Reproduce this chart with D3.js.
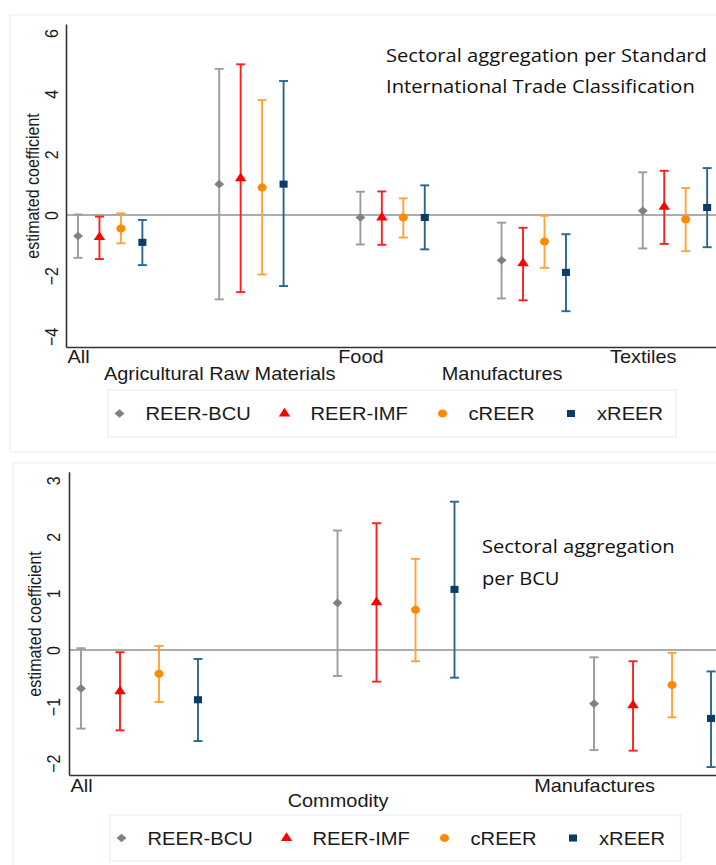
<!DOCTYPE html>
<html>
<head>
<meta charset="utf-8">
<script src="https://cdn.jsdelivr.net/npm/d3@7"></script>
<style>
  html, body { margin: 0; padding: 0; background: #fff; }
  svg { display: block; }
</style>
</head>
<body>
<script>
// Coefficient plots: REER measures by sector aggregation

const seriesNames = ["REER-BCU", "REER-IMF", "cREER", "xREER"];

// --- panel 1: SITC aggregation ---
const sitcCategories = ["All", "Agricultural Raw Materials", "Food", "Manufactures", "Textiles"];
const sitcEstimate = [
    [-0.69, 1.02, -0.08, -1.49, 0.14],
    [-0.73, 1.21, -0.08, -1.59, 0.27],
    [-0.44, 0.91, -0.08, -0.87, -0.14],
    [-0.90, 1.02, -0.08, -1.89, 0.25]
];
const sitcLower = [
    [-1.41, -2.78, -0.97, -2.75, -1.10],
    [-1.45, -2.54, -0.98, -2.81, -0.95],
    [-0.93, -1.96, -0.74, -1.74, -1.19],
    [-1.65, -2.34, -1.13, -3.17, -1.06]
];
const sitcUpper = [
    [0.02, 4.82, 0.77, -0.25, 1.41],
    [-0.05, 4.97, 0.78, -0.42, 1.46],
    [0.06, 3.79, 0.55, -0.02, 0.89],
    [-0.16, 4.42, 0.98, -0.63, 1.55]
];
const sitcTicks = [-4, -2, 0, 2, 4, 6];
const sitcTitle = ["Sectoral aggregation per Standard", "International Trade Classification"];

// --- panel 2: BCU aggregation ---
const bcuCategories = ["All", "Commodity", "Manufactures"];
const bcuEstimate = [
    [-0.68, 0.83, -0.95],
    [-0.73, 0.84, -0.98],
    [-0.42, 0.71, -0.62],
    [-0.88, 1.07, -1.21]
];
const bcuLower = [
    [-1.39, -0.46, -1.77],
    [-1.42, -0.56, -1.78],
    [-0.92, -0.20, -1.19],
    [-1.61, -0.49, -2.07]
];
const bcuUpper = [
    [0.03, 2.11, -0.13],
    [-0.04, 2.24, -0.20],
    [0.07, 1.61, -0.05],
    [-0.16, 2.62, -0.38]
];
const bcuTicks = [-2, -1, 0, 1, 2, 3];
const bcuTitle = ["Sectoral aggregation", "per BCU"];

// styling
const SX = 1.14; // the source image is a bit wider than tall
const barColors = ["#9c9c9c", "#ff1f1f", "#ffa238", "#2b6690"];
const markColors = ["#808080", "#ff0000", "#ff8a00", "#0a3c66"];
const markShapes = ["diamond", "triangle", "circle", "square"];
const sansFont = "'Liberation Sans', Arial, Helvetica, sans-serif";
const titleFont = "'Open Sans', 'Noto Sans', sans-serif";
const seriesShift = 0.152;

const width = 716, height = 865;
const svg = d3.select('body').append('svg')
    .attr('width', width)
    .attr('height', height);

function markerPath(shape) {
    if (shape === 'diamond') return d3.symbol(d3.symbolSquare, 38)();
    if (shape === 'triangle') return d3.symbol(d3.symbolTriangle, 44)();
    if (shape === 'circle') return d3.symbol(d3.symbolCircle, 50)();
    return d3.symbol(d3.symbolSquare, 50)();
}

function markerTransform(shape, x, y) {
    let t = `translate(${x},${y}) scale(${SX},1)`;
    if (shape === 'diamond') t += ' rotate(45)';
    return t;
}

function drawPanel(p) {
    const g = svg.append('g');

    // outer frame
    g.append('rect')
        .attr('x', p.frame[0]).attr('y', p.frame[1])
        .attr('width', p.frame[2]).attr('height', p.frame[3])
        .attr('fill', 'none').attr('stroke', '#ececec').attr('stroke-width', 1);

    const x = d3.scaleLinear().domain(p.xDomain).range(p.xRange);
    const y = d3.scaleLinear().domain(p.yDomain).range(p.yRange);

    // zero line
    g.append('line')
        .attr('x1', x.range()[0]).attr('x2', x.range()[1])
        .attr('y1', y(0)).attr('y2', y(0))
        .attr('stroke', '#5a5a5a').attr('stroke-width', 1.1);

    // y axis
    const gy = g.append('g')
        .attr('transform', `translate(${p.xRange[0]},0)`)
        .call(d3.axisLeft(y).tickValues(p.ticks).tickSize(0).tickSizeOuter(0).tickFormat(d3.format('d')));
    gy.select('.domain').attr('stroke', '#333').attr('stroke-width', 1.6);
    gy.selectAll('text')
        .attr('x', 0).attr('dy', 0)
        .attr('text-anchor', 'middle')
        .attr('font-family', sansFont).attr('font-size', 16)
        .attr('fill', '#1a1a1a')
        .attr('transform', `translate(${p.tickOffset},0) rotate(-90) scale(1,${SX})`);

    // x axis with staggered labels
    const gx = g.append('g')
        .attr('transform', `translate(0,${p.yRange[0]})`)
        .call(d3.axisBottom(x).tickValues(d3.range(p.cats.length)).tickSize(0).tickSizeOuter(0)
            .tickFormat(i => p.cats[i]));
    gx.select('.domain').attr('stroke', '#333').attr('stroke-width', 1.6);
    gx.selectAll('text')
        .attr('y', (d, i) => i % 2 ? p.row2 : p.row1)
        .attr('dy', 0)
        .attr('font-family', sansFont).attr('font-size', 17.5)
        .attr('fill', '#1a1a1a')
        .attr('transform', `scale(${SX},1)`);

    // y title
    g.append('text')
        .attr('transform', `translate(${p.yTitle[0]},${p.yTitle[1]}) rotate(-90) scale(1,${SX})`)
        .attr('text-anchor', 'middle')
        .attr('font-family', sansFont).attr('font-size', 16)
        .attr('fill', '#1a1a1a')
        .text('estimated coefficient');

    // error bars + markers
    const points = [];
    seriesNames.forEach((name, j) => {
        p.cats.forEach((c, i) => {
            points.push({ j, i, est: p.est[j][i], lo: p.lo[j][i], hi: p.hi[j][i] });
        });
    });

    const bars = g.append('g').selectAll('g').data(points).enter().append('g');
    const px = d => x(d.i + d.j * seriesShift);
    bars.append('line')
        .attr('x1', px).attr('x2', px)
        .attr('y1', d => y(d.lo)).attr('y2', d => y(d.hi))
        .attr('stroke', d => barColors[d.j]).attr('stroke-width', 1.9);
    ['lo', 'hi'].forEach(k => {
        bars.append('line')
            .attr('x1', d => px(d) - 4.5).attr('x2', d => px(d) + 4.5)
            .attr('y1', d => y(d[k])).attr('y2', d => y(d[k]))
            .attr('stroke', d => barColors[d.j]).attr('stroke-width', 1.9);
    });
    bars.append('path')
        .attr('d', d => markerPath(markShapes[d.j]))
        .attr('transform', d => markerTransform(markShapes[d.j], px(d), y(d.est)))
        .attr('fill', d => markColors[d.j]);

    // panel title
    p.title.forEach((line, k) => {
        g.append('text')
            .attr('transform', `translate(${p.titlePos[0]},${p.titlePos[1] + k * p.titleGap}) scale(${SX - 0.02},1)`)
            .attr('font-family', titleFont).attr('font-size', 18)
            .attr('fill', '#111')
            .text(line);
    });

    // legend
    const lb = p.legend;
    g.append('rect')
        .attr('x', lb[0]).attr('y', lb[1]).attr('width', lb[2]).attr('height', lb[3])
        .attr('fill', '#fff').attr('stroke', '#e2ecf0').attr('stroke-width', 1);
    const legendOffsets = [11.5, 176.5, 334.5, 463];
    const cy = lb[1] + lb[3] / 2;
    const items = g.append('g').selectAll('g').data(seriesNames).enter().append('g');
    items.append('path')
        .attr('d', (d, j) => markerPath(markShapes[j]))
        .attr('transform', (d, j) => markerTransform(markShapes[j], lb[0] + legendOffsets[j], cy))
        .attr('fill', (d, j) => markColors[j]);
    items.append('text')
        .attr('transform', (d, j) => `translate(${lb[0] + legendOffsets[j] + 26},${cy + 6.5}) scale(${SX - 0.02},1)`)
        .attr('font-family', sansFont).attr('font-size', 18)
        .attr('fill', '#1a1a1a')
        .text(d => d);
}

drawPanel({
    cats: sitcCategories, est: sitcEstimate, lo: sitcLower, hi: sitcUpper, ticks: sitcTicks,
    xDomain: [-0.085, 4.547], xRange: [66, 720],
    yDomain: [-4.35, 6.3], yRange: [347, 24],
    tickOffset: -8, row1: 16, row2: 33,
    yTitle: [39, 186],
    frame: [10, 15, 720, 437],
    title: sitcTitle, titlePos: [386, 62], titleGap: 31,
    legend: [108, 390, 568, 47]
});

drawPanel({
    cats: bcuCategories, est: bcuEstimate, lo: bcuLower, hi: bcuUpper, ticks: bcuTicks,
    xDomain: [-0.0468, 2.491], xRange: [69, 720],
    yDomain: [-2.21, 3.15], yRange: [775, 471.7],
    tickOffset: -9, row1: 17, row2: 32,
    yTitle: [41, 624],
    frame: [13, 463, 720, 420],
    title: bcuTitle, titlePos: [482, 553], titleGap: 32,
    legend: [110, 815, 571, 46]
});
</script>
</body>
</html>
